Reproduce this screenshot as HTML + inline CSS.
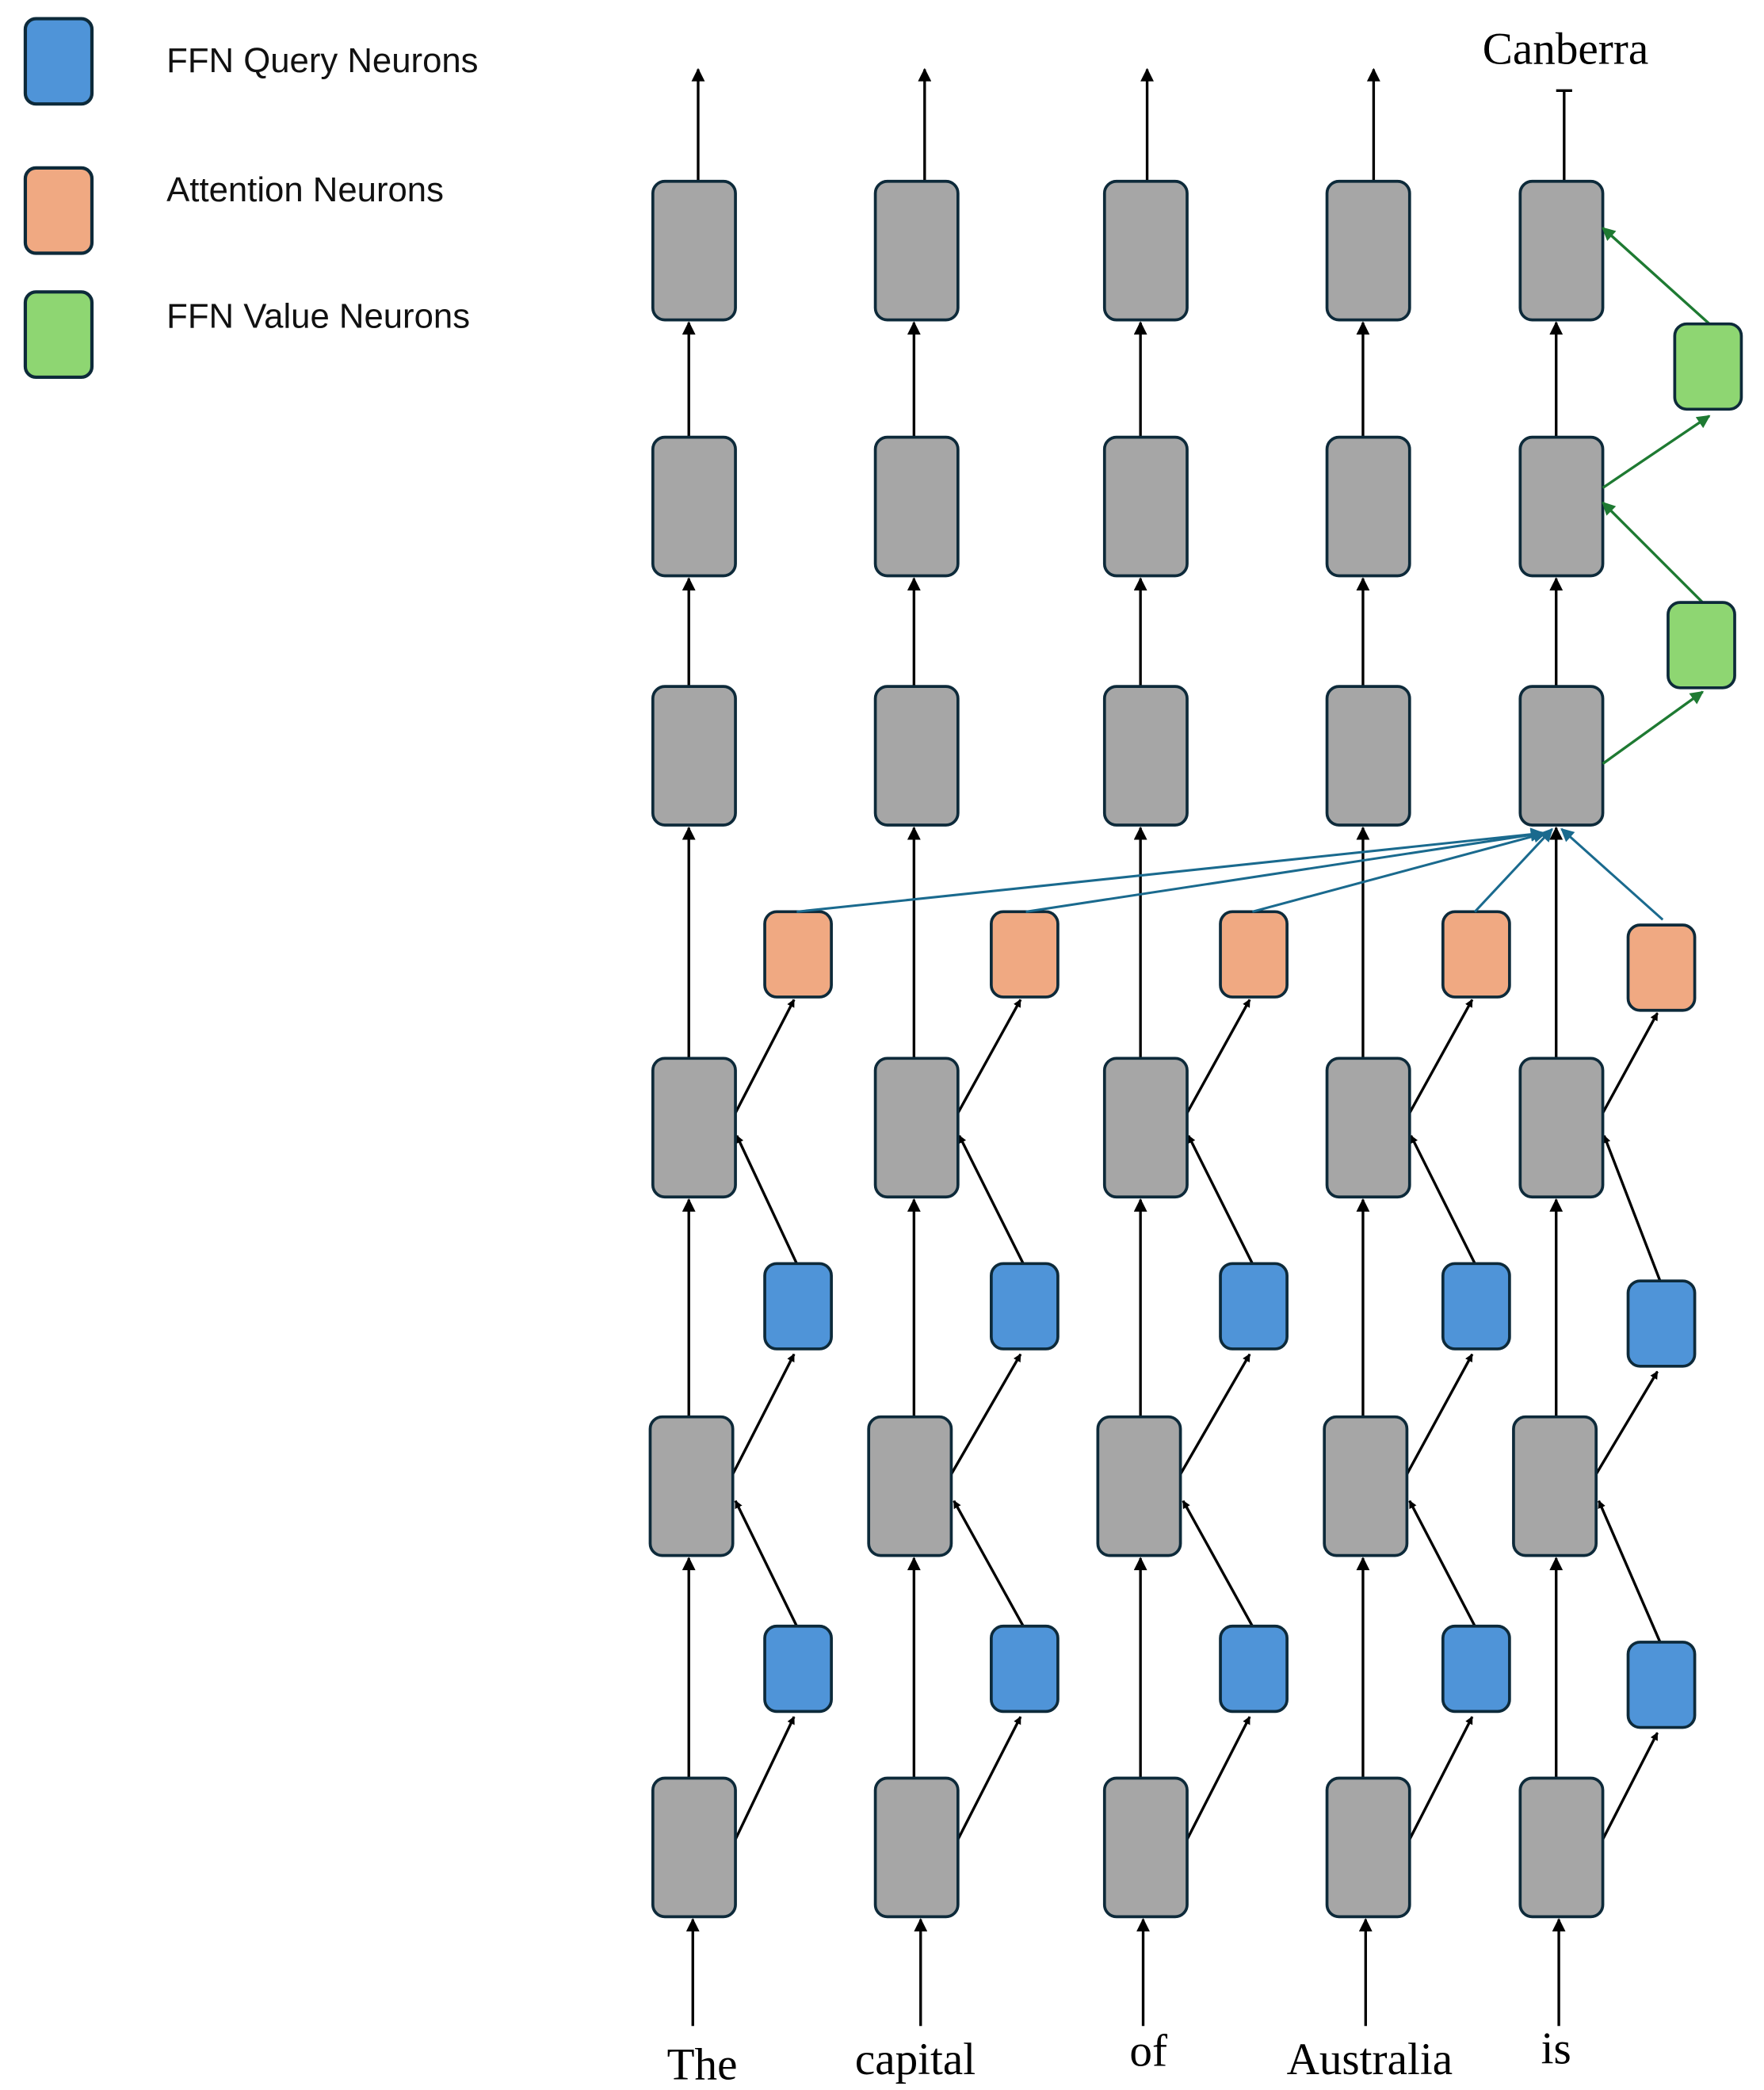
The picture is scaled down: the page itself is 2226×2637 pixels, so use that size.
<!DOCTYPE html>
<html><head><meta charset="utf-8"><style>html,body{margin:0;padding:0;background:#fff}svg{display:block}</style></head>
<body>
<svg width="2226" height="2637" viewBox="0 0 1324 1568" preserveAspectRatio="none" xmlns="http://www.w3.org/2000/svg">
<defs>
<marker id="ab" viewBox="0 0 10 10" refX="9" refY="5" markerWidth="6" markerHeight="6" orient="auto" markerUnits="userSpaceOnUse"><path d="M0,0 L10,5 L0,10 z" fill="#000"/></marker>
<marker id="ab2" viewBox="0 0 10 10" refX="9" refY="5" markerWidth="13" markerHeight="10" orient="auto" markerUnits="userSpaceOnUse"><path d="M0,0 L10,5 L0,10 z" fill="#000"/></marker>
<marker id="at" viewBox="0 0 10 10" refX="9" refY="5" markerWidth="12" markerHeight="10" orient="auto" markerUnits="userSpaceOnUse"><path d="M0,0 L10,5 L0,10 z" fill="#1a6a8e"/></marker>
<marker id="ag" viewBox="0 0 10 10" refX="9" refY="5" markerWidth="12" markerHeight="10" orient="auto" markerUnits="userSpaceOnUse"><path d="M0,0 L10,5 L0,10 z" fill="#1e7a32"/></marker>
</defs>
<g font-family="Liberation Sans, sans-serif" font-size="26" fill="#111">
<rect x="19" y="14" width="50" height="64" rx="8" fill="#4f94d8" stroke="#0d2a3a" stroke-width="2.5"/>
<rect x="19" y="126" width="50" height="64" rx="8" fill="#f0a982" stroke="#0d2a3a" stroke-width="2.5"/>
<rect x="19" y="219" width="50" height="64" rx="8" fill="#8ed672" stroke="#0d2a3a" stroke-width="2.5"/>
<text x="125" y="54">FFN Query Neurons</text>
<text x="125" y="151">Attention Neurons</text>
<text x="125" y="246">FFN Value Neurons</text>
</g>
<g id="d" stroke="#000" stroke-width="2" fill="none">
</g>
<script>
(function(){
var NS="http://www.w3.org/2000/svg",g=document.getElementById('d');
function el(t,a){var e=document.createElementNS(NS,t);for(var k in a)e.setAttribute(k,a[k]);g.appendChild(e);return e;}
function ln(x1,y1,x2,y2,m,c,w){el('line',{x1:x1,y1:y1,x2:x2,y2:y2,stroke:c||'#000','stroke-width':w||2,'marker-end':m?'url(#'+m+')':''});}
function box(x,y,w,h,f){el('rect',{x:x,y:y,width:w,height:h,rx:9,fill:f,stroke:'#0d2a3a','stroke-width':2.2});}
var gx=[490,657,829,996,1141],gxE=[488,652,824,994,1136],vx=[517,686,856,1023,1168],tx=[524,694,861,1031,1174],bx=[520,691,858,1025,1170],sx=[574,744,916,1083,1222];
for(var i=0;i<5;i++){
 var v=vx[i],o=(i==4)?1:0,s=sx[i];
 ln(bx[i],1520,bx[i],1440,'ab2');
 ln(v,1334,v,1169,'ab2');
 ln(v,1063,v,900,'ab2');
 ln(v,794,v,621,'ab2');
 ln(v,515,v,434,'ab2');
 ln(v,328,v,242,'ab2');
 if(i<4) ln(tx[i],136,tx[i],52,'ab2'); else {ln(tx[i],136,tx[i],68);ln(tx[i]-6,68,tx[i]+6,68);}
 var bl=o?1232:1220, bu=o?961:948, or=o?694:684;
 var gr=gx[i]+62, ge=gxE[i]+62;
 ln(gr,1380,s+22,bl+68-0,'ab');
 ln(s+24,bl,ge+2,1126,'ab');
 ln(ge,1106,s+22,bu+68,'ab');
 ln(s+24,bu,gr+1,852,'ab');
 ln(gr,835,s+22,or+66,'ab');
 box(s,bl,50,64,'#4f94d8');box(s,bu,50,64,'#4f94d8');box(s,or,50,64,'#f0a982');
}
var att=[[598,684,1158,625],[770,684,1158,625],[940,684,1160,625],[1107,684,1165,622],[1248,690,1172,622]];
att.forEach(function(a){ln(a[0],a[1],a[2],a[3],'at','#1a6a8e',1.8);});
var rows=[136,328,515,794,1334];
for(var i=0;i<5;i++){rows.forEach(function(y){box(gx[i],y,62,104,'#a6a6a6');});box(gxE[i],1063,62,104,'#a6a6a6');}
ln(1203,573,1278,519,'ag','#1e7a32',2);
ln(1278,452,1203,377,'ag','#1e7a32',2);
ln(1203,366,1283,312,'ag','#1e7a32',2);
ln(1283,243,1203,171,'ag','#1e7a32',2);
box(1252,452,50,64,'#8ed672');box(1257,243,50,64,'#8ed672');
})();
</script>
<g font-family="Liberation Serif, serif" font-size="34" fill="#000" text-anchor="middle">
<text x="1175" y="48">Canberra</text>
<text x="527" y="1560">The</text>
<text x="687" y="1556">capital</text>
<text x="862" y="1550">of</text>
<text x="1028" y="1556">Australia</text>
<text x="1168" y="1548">is</text>
</g>
</svg>
</body></html>
